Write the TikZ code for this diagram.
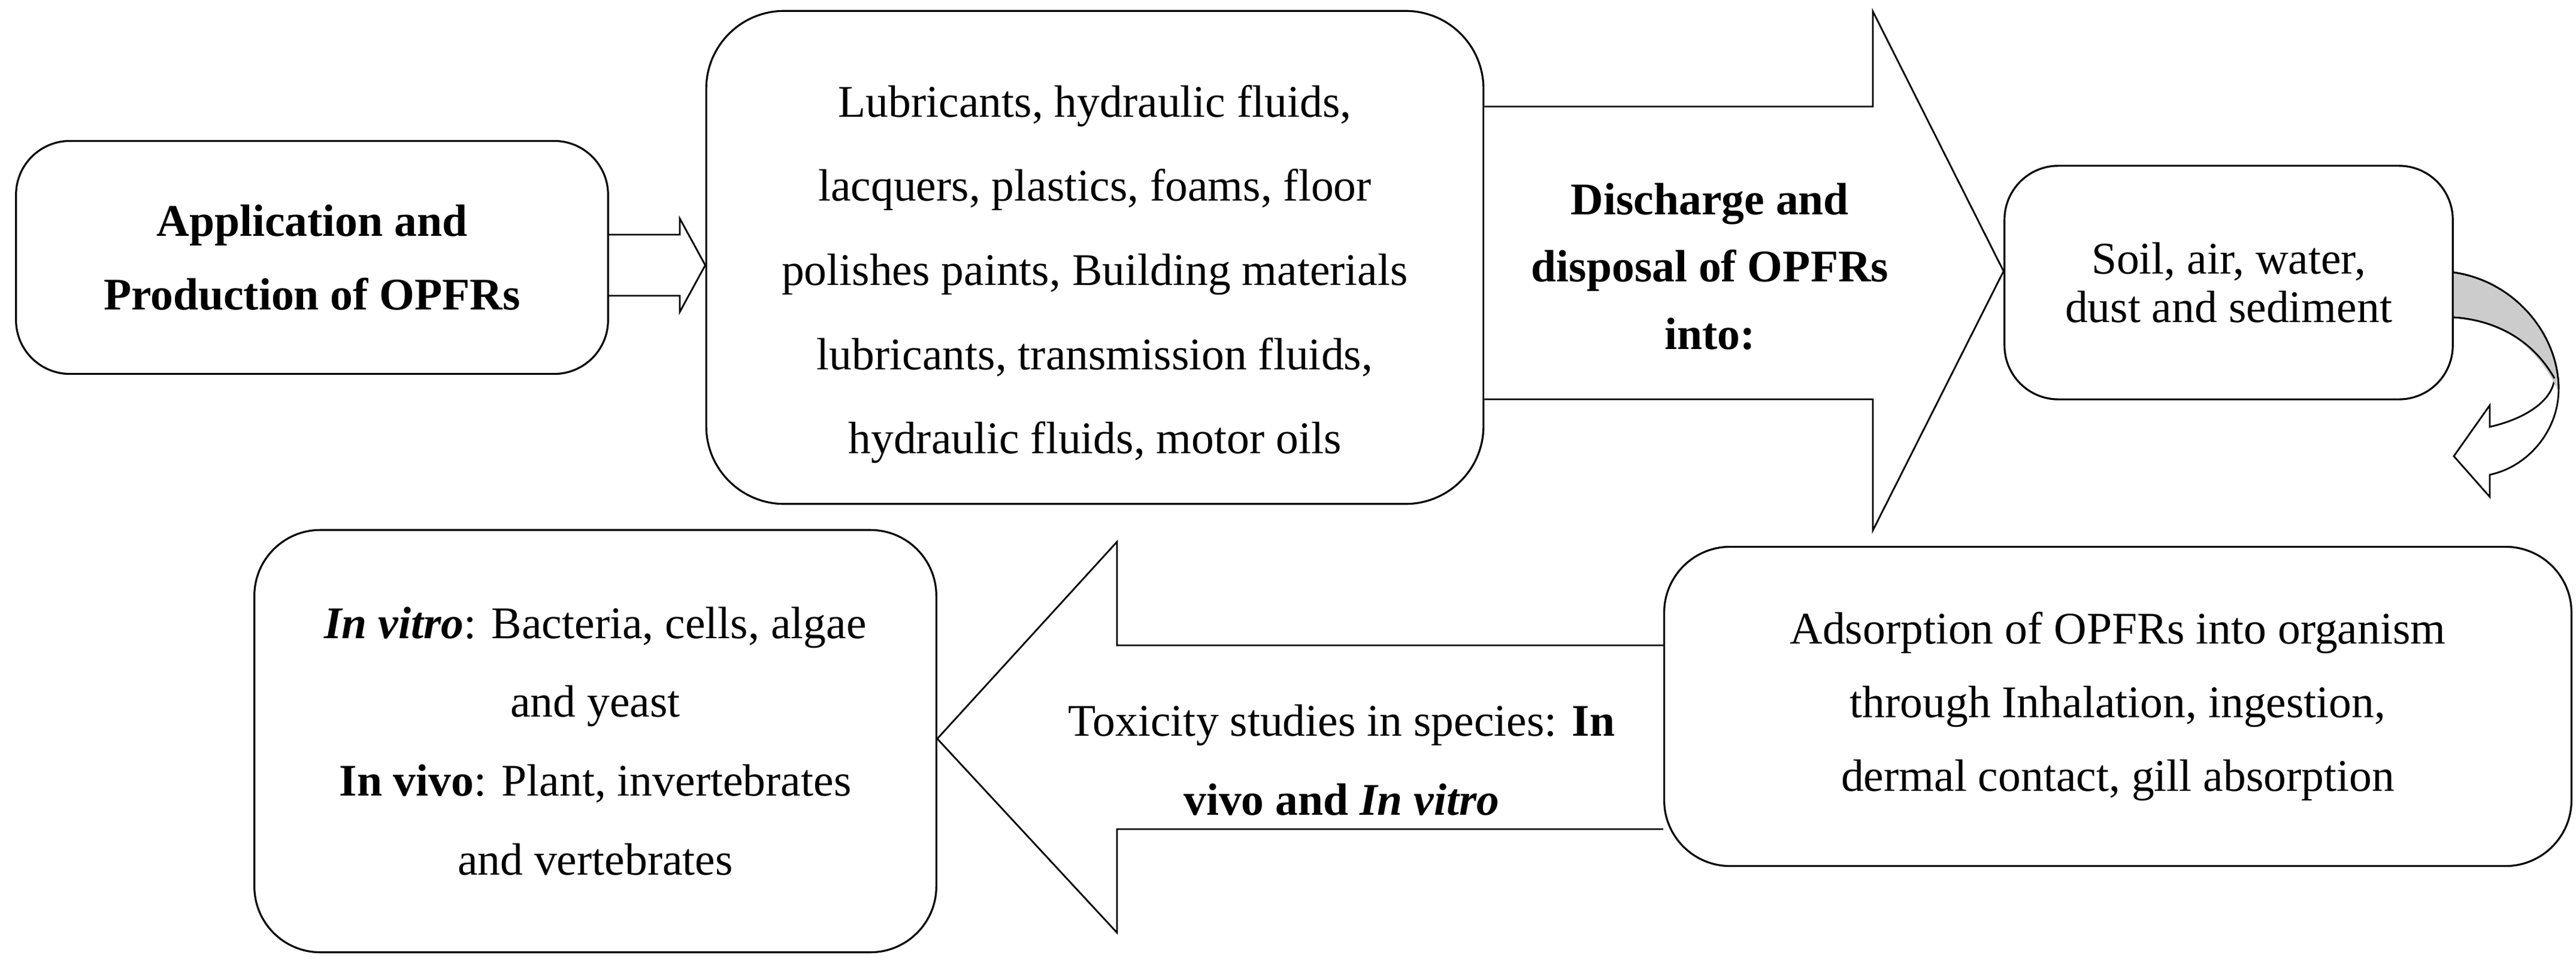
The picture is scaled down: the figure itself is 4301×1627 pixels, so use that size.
\documentclass[tikz,border=0pt]{standalone}
\usepackage{fontspec}
\setmainfont{Liberation Serif}
\usetikzlibrary{positioning,calc}
\tikzset{
  box/.style={draw, rounded corners=#1, align=center, inner sep=0pt,
    line width=0.9pt},
  box/.default=1cm,
  bigarrow/.style={draw, fill=white, line width=0.8pt, line join=miter},
  lbl/.style={align=center},
  txt/.style={font=\fontsize{21.5}{#1}\selectfont}
}
\begin{document}
\begin{tikzpicture}[x=0.01cm, y=-0.01cm]
        \useasboundingbox (0,0) rectangle (4301,1627);
        % Boxes
        \node [box=0.9cm, txt=35, minimum width=9.88cm, minimum height=3.89cm] (appl) at (521,430)
            {\textbf{Application and}\\\textbf{Production of OPFRs}};
        \node [box=1.3cm, minimum width=12.97cm, minimum height=8.23cm] (uses) at (1828,430) {};
        \node [lbl, txt=40] (usestxt) at (1828,458)
            {Lubricants, hydraulic fluids,\\lacquers, plastics, foams, floor\\polishes paints, Building materials\\lubricants, transmission fluids,\\hydraulic fluids, motor oils};
        \node [box=0.9cm, txt=23, minimum width=7.48cm, minimum height=3.9cm] (env) at (3721,472)
            {Soil, air, water,\\dust and sediment};
        \node [box=1.1cm, txt=35, minimum width=15.14cm, minimum height=5.33cm] (adsorb) at (3536,1180)
            {Adsorption of OPFRs into organism\\through Inhalation, ingestion,\\dermal contact, gill absorption};
        \node [box=1.1cm, txt=37.5, minimum width=11.38cm, minimum height=7.05cm] (vitro) at (994,1238)
            {\textit{\textbf{In vitro}}: Bacteria, cells, algae\\and yeast\\\textbf{In vivo}: Plant, invertebrates\\and vertebrates};
        % Small double arrow
        \draw [bigarrow] (appl.east |- 0,392) -- (1135,392) -- (1135,365) -- (uses.west |- 0,443)
            -- (1135,521) -- (1135,494) -- (appl.east |- 0,494);
        % Discharge arrow
        \draw [bigarrow] (uses.east |- 0,178) -- (3127,178) -- (3127,19) -- (env.west |- 0,453)
            -- (3127,886) -- (3127,667) -- (uses.east |- 0,667);
        \node [lbl, txt=32] (disch) at (2855,445)
            {\textbf{Discharge and}\\\textbf{disposal of OPFRs}\\\textbf{into:}};
        % Toxicity arrow
        \draw [bigarrow] (adsorb.west |- 0,1078) -- (1865,1078) -- (1865,905) -- (vitro.east |- 0,1234)
            -- (1865,1558) -- (1865,1385) -- (adsorb.west |- 0,1385);
        \node [lbl, txt=37.5] (tox) at (2240,1270)
            {Toxicity studies in species: \textbf{In}\\\textbf{vivo and \textit{In vitro}}};
        % Curved arrow
        \draw [bigarrow] (env.east |- 0,455) .. controls (4200,470) and (4272,560) .. (4272,650)
            .. controls (4272,720) and (4220,780) .. (4157,793) -- (4157,830) -- (4097,762)
            -- (4157,677) -- (4157,713) .. controls (4215,700) and (4262,670) .. (4265,632)
            .. controls (4230,570) and (4170,535) .. (env.east |- 0,530);
        \fill [gray!40] (4097,457) .. controls (4200,472) and (4272,560) .. (4270,650)
            .. controls (4230,570) and (4170,535) .. (4097,528) -- cycle;
        \draw [line width=0.8pt] (env.east |- 0,455) .. controls (4200,470) and (4272,560) .. (4272,650)
            (4265,632) .. controls (4230,570) and (4170,535) .. (env.east |- 0,530);
\end{tikzpicture}
\end{document}
